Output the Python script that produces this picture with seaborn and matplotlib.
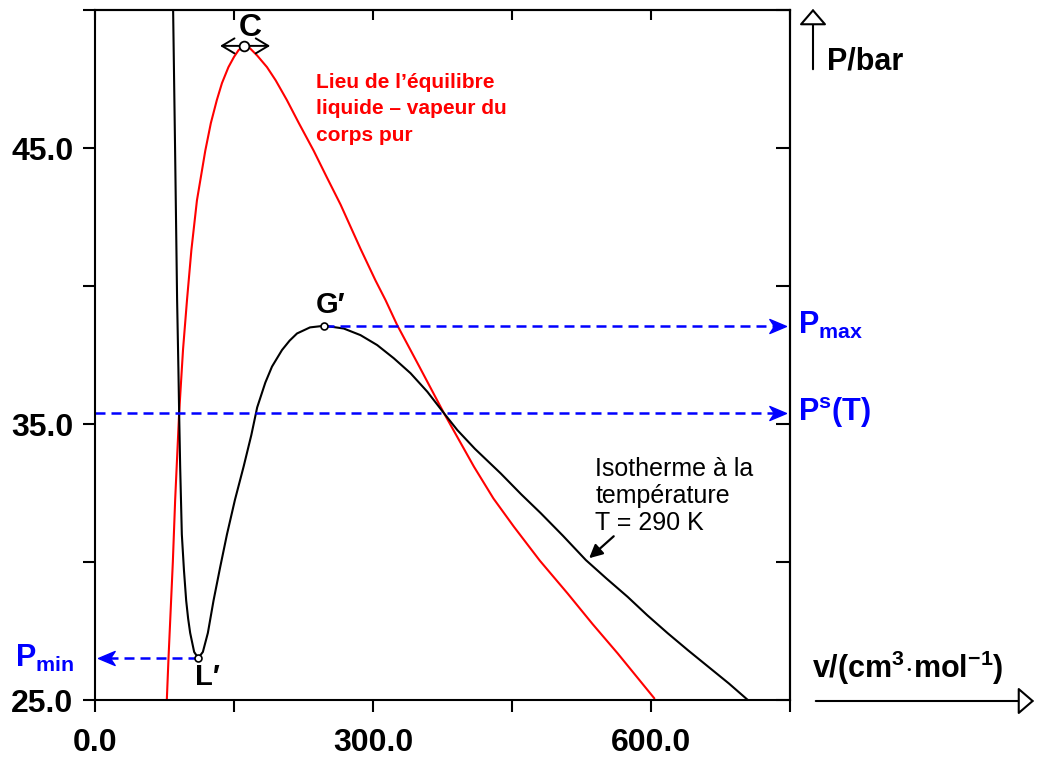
import numpy as np
import pandas as pd
import matplotlib
matplotlib.use("Agg")
import matplotlib.pyplot as plt
from matplotlib.patches import FancyArrowPatch
import seaborn as sns

# ---- data ----
# isotherm T = 290 K : v (cm3/mol), P (bar)
iso_v = [84.3, 86.4, 87.6, 88.6, 90.0, 90.8, 91.9, 93.7, 96.0, 98.4, 100.5, 102.7,
         107.0, 111.4, 116.4, 121.8, 127.9, 135.0, 142.4, 151.0, 160.4, 168.7, 175.0,
         183.8, 191.0, 201.8, 210.0, 218.0, 232.0, 247.6, 268.4, 286.5, 304.5, 322.5,
         340.5, 358.6, 376.6, 391.0, 410.0, 437.8, 460.0, 481.0, 505.0, 529.7, 552.0,
         574.7, 596.0, 618.0, 640.0, 662.0, 684.0, 704.5]
iso_P = [50.0, 45.0, 42.0, 39.5, 37.0, 35.4, 33.46, 31.0, 29.7, 28.6, 27.95, 27.43,
         26.74, 26.52, 26.74, 27.43, 28.6, 29.8, 31.0, 32.25, 33.46, 34.6, 35.6,
         36.5, 37.08, 37.68, 38.02, 38.28, 38.5, 38.56, 38.46, 38.22, 37.86, 37.38,
         36.84, 36.17, 35.39, 34.78, 34.1, 33.21, 32.45, 31.77, 30.95, 30.07, 29.4,
         28.74, 28.07, 27.42, 26.8, 26.2, 25.6, 25.0]

# liquid-vapour equilibrium locus of the pure substance
eq_v = [77.5, 79.3, 84.0, 86.5, 90.8, 95.0, 99.3, 104.0, 110.0, 119.0, 125.0, 131.5,
        137.0, 144.0, 150.0, 155.0, 161.0, 167.0, 175.0, 185.6, 195.0, 207.0, 220.0,
        236.0, 250.0, 265.0, 286.5, 302.7, 313.5, 326.0, 350.0, 376.6, 409.0, 430.0,
        452.0, 480.0, 510.0, 537.0, 564.0, 603.6]
eq_P = [25.0, 26.5, 30.0, 32.25, 35.4, 37.7, 39.5, 41.3, 43.1, 44.9, 45.9, 46.74,
        47.35, 47.93, 48.3, 48.55, 48.7, 48.62, 48.35, 47.93, 47.45, 46.74, 45.9,
        44.9, 43.95, 42.95, 41.35, 40.2, 39.49, 38.59, 37.08, 35.39, 33.45, 32.3,
        31.28, 30.05, 28.86, 27.75, 26.69, 25.06]

C_pt = (161.0, 48.7)
G_pt = (247.6, 38.56)
L_pt = (111.4, 26.52)
P_sat = 35.4
v_end = 746.0
v_start = 3.0

xticks = [0, 150, 300, 450, 600, 750]
xlabels = ["0.0", "", "300.0", "", "600.0", ""]
yticks = [25, 30, 35, 40, 45, 50]
ylabels = ["25.0", "", "35.0", "", "45.0", ""]

iso = pd.DataFrame({"v": iso_v, "P": iso_P})
eq = pd.DataFrame({"v": eq_v, "P": eq_P})

# ---- style ----
sns.set_style("white")
plt.rcParams["font.family"] = ["Liberation Sans", "DejaVu Sans"]
plt.rcParams["text.color"] = "black"
plt.rcParams["xtick.color"] = "black"
plt.rcParams["ytick.color"] = "black"
plt.rcParams["mathtext.fontset"] = "custom"
plt.rcParams["mathtext.rm"] = "Liberation Sans:bold"
plt.rcParams["mathtext.it"] = "Liberation Sans:bold"
plt.rcParams["mathtext.bf"] = "Liberation Sans:bold"

fig = plt.figure(figsize=(10.39, 7.62), dpi=100)
ax = fig.add_axes([95 / 1039, 1 - 700 / 762, 695 / 1039, 690 / 762])

sns.lineplot(data=eq, x="v", y="P", color="red", lw=1.5, sort=False, ax=ax)
sns.lineplot(data=iso, x="v", y="P", color="black", lw=1.5, sort=False, ax=ax)

ax.set_xlim(0, 750)
ax.set_ylim(25, 50)
ax.set_xlabel("")
ax.set_ylabel("")

for s in ax.spines.values():
    s.set_linewidth(1.5)
    s.set_color("black")

ax.set_xticks(xticks, xlabels, fontsize=23, fontweight="bold")
ax.set_yticks(yticks, ylabels, fontsize=23, fontweight="bold")
ax.tick_params(axis="x", bottom=True, direction="out", length=8.5, width=1.5, pad=12,
               colors="black")
ax.tick_params(axis="y", left=True, direction="out", length=8.5, width=1.5, pad=7,
               colors="black")

secx = ax.secondary_xaxis("top")
secx.set_xticks(xticks, [""] * len(xticks))
secx.tick_params(top=True, direction="in", length=7, width=1.5, colors="black")
secy = ax.secondary_yaxis("right")
secy.set_yticks(yticks, [""] * len(yticks))
secy.tick_params(right=True, direction="in", length=10, width=1.5, colors="black")
for sa in (secx, secy):
    for s in sa.spines.values():
        s.set_linewidth(1.5)
        s.set_color("black")

# ---- dashed blue lines with stealth heads ----
blue = "#0000ff"
dash = (0, (4, 2.4))
right_head = [(0, 0), (-1, 0.42), (-0.72, 0), (-1, -0.42), (0, 0)]
left_head = [(-x, y) for x, y in right_head]

ax.plot([0, v_end - 8], [P_sat, P_sat], color=blue, lw=1.8, ls=dash)
ax.plot([G_pt[0], v_end - 8], [G_pt[1], G_pt[1]], color=blue, lw=1.8, ls=dash)
ax.plot([L_pt[0], v_start + 8], [L_pt[1], L_pt[1]], color=blue, lw=1.8, ls=dash)
ax.plot([v_end, v_end], [P_sat, G_pt[1]], ls="none", marker=right_head, ms=24,
        color=blue, mec=blue)
ax.plot([v_start], [L_pt[1]], ls="none", marker=left_head, ms=24, color=blue, mec=blue)

# ---- points C, G', L' ----
ax.annotate("", xy=(132, C_pt[1]), xytext=(192, C_pt[1]),
            arrowprops=dict(arrowstyle="<->,head_length=0.5,head_width=0.3",
                            color="black", lw=1.4, mutation_scale=18))
ax.plot([C_pt[0]], [C_pt[1]], "o", ms=7, mfc="white", mec="black", mew=1.3, zorder=5)
ax.plot([G_pt[0], L_pt[0]], [G_pt[1], L_pt[1]], "o", ms=5, mfc="white", mec="black",
        mew=1.2, zorder=5)

ax.text(168, 49.35, "C", fontsize=23, fontweight="bold", ha="center", va="center")
ax.text(254, 39.3, "G\u2032", fontsize=21, fontweight="bold", ha="center", va="center")
ax.text(121, 25.85, "L\u2032", fontsize=21, fontweight="bold", ha="center", va="center")

ax.text(238, 47.72, "Lieu de l\u2019équilibre\nliquide \u2013 vapeur du\ncorps pur",
        color="red", fontsize=15, fontweight="bold", va="top", ha="left", linespacing=1.5)
ax.text(540, 33.8, "Isotherme à la\ntempérature\nT = 290 K",
        color="black", fontsize=18, va="top", ha="left", linespacing=1.15)
ax.annotate("", xy=(531, 30.07), xytext=(562, 31.0),
            arrowprops=dict(arrowstyle="-|>", color="black", lw=1.6, mutation_scale=20))

ax.text(759, G_pt[1], r"$\mathrm{P_{max}}$", color=blue, fontsize=22, va="center", ha="left")
ax.text(759, P_sat, r"$\mathrm{P^{s}(T)}$", color=blue, fontsize=22, va="center", ha="left")
ax.text(-86, L_pt[1], r"$\mathrm{P_{min}}$", color=blue, fontsize=22, va="center", ha="left")

# ---- axis titles with hollow arrows ----
fig.text(827 / 1039, 1 - 62 / 762, "P/bar", fontsize=22, fontweight="bold",
         va="center", ha="left")
fig.text(812 / 1039, 1 - 668 / 762, r"$\mathrm{v/(cm^{3}{\cdot}mol^{-1})}$", fontsize=22,
         va="center", ha="left")
fig.add_artist(FancyArrowPatch((813 / 1039, 1 - 72 / 762), (813 / 1039, 1 - 6 / 762),
                               transform=fig.transFigure,
                               arrowstyle="-|>,head_length=0.5,head_width=0.43",
                               mutation_scale=20, fc="white", ec="black", lw=1.5))
fig.add_artist(FancyArrowPatch((813 / 1039, 1 - 701 / 762), (1037 / 1039, 1 - 701 / 762),
                               transform=fig.transFigure,
                               arrowstyle="-|>,head_length=0.5,head_width=0.43",
                               mutation_scale=20, fc="white", ec="black", lw=1.5))

fig.savefig("out.png", dpi=100)
